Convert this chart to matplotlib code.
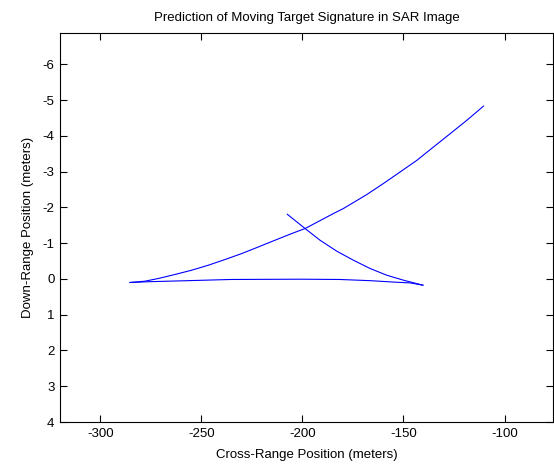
import matplotlib
matplotlib.use("Agg")
import matplotlib.pyplot as plt

# Curve 1: long rising signature
c1_x = [-285.35, -277.9, -271.3, -263.1, -254.8, -246.6, -238.3, -230.0, -221.8, -213.6,
        -205.3, -198.7, -184.7, -179.8, -168.2, -160.0, -151.7, -143.4, -135.2, -126.9,
        -118.7, -110.4]
c1_y = [0.098, 0.061, -0.014, -0.126, -0.246, -0.385, -0.545, -0.712, -0.897, -1.084,
        -1.271, -1.411, -1.830, -1.969, -2.360, -2.668, -2.992, -3.318, -3.690, -4.064,
        -4.436, -4.835]
# Curve 2: descending branch
c2_x = [-207.5, -198.7, -191.3, -183.0, -174.8, -166.5, -158.3, -150.0, -140.4]
c2_y = [-1.810, -1.411, -1.084, -0.777, -0.525, -0.293, -0.106, 0.034, 0.173]
# Curve 3: nearly flat return
c3_x = [-140.4, -146.7, -154.1, -166.5, -181.4, -201.2, -235.8, -256.6, -275.4, -285.35]
c3_y = [0.173, 0.109, 0.089, 0.047, 0.014, 0.006, 0.014, 0.047, 0.075, 0.098]

xticks = [-300, -250, -200, -150, -100]
yticks = [-6, -5, -4, -3, -2, -1, 0, 1, 2, 3, 4]

plt.rcParams['font.family'] = ['Liberation Sans', 'DejaVu Sans']
plt.rcParams['axes.unicode_minus'] = False
fig = plt.figure(figsize=(5.54, 4.65), dpi=100)
ax = fig.add_axes([60/554, 43/465, 493/554, 389/465])
ax.plot(c2_x, c2_y, color='#0000ff', lw=0.8)
ax.plot(c3_x, c3_y, color='#0000ff', lw=0.8)
ax.plot(c1_x, c1_y, color='#0000ff', lw=0.8)
ax.set_xlim(-320, -76)
ax.set_ylim(4, -6.88)
ax.set_xticks(xticks)
ax.set_yticks(yticks)
ax.tick_params(direction='in', top=True, right=True, length=5, labelsize=9.5, pad=4)
for s in ax.spines.values():
    s.set_linewidth(0.8)
ax.set_xlabel('Cross-Range Position (meters)', fontsize=9.5, labelpad=7)
ax.set_ylabel('Down-Range Position (meters)', fontsize=9.5, labelpad=6)
ax.set_title('Prediction of Moving Target Signature in SAR Image', fontsize=9.5, pad=9)
fig.savefig('out.png', dpi=100)
